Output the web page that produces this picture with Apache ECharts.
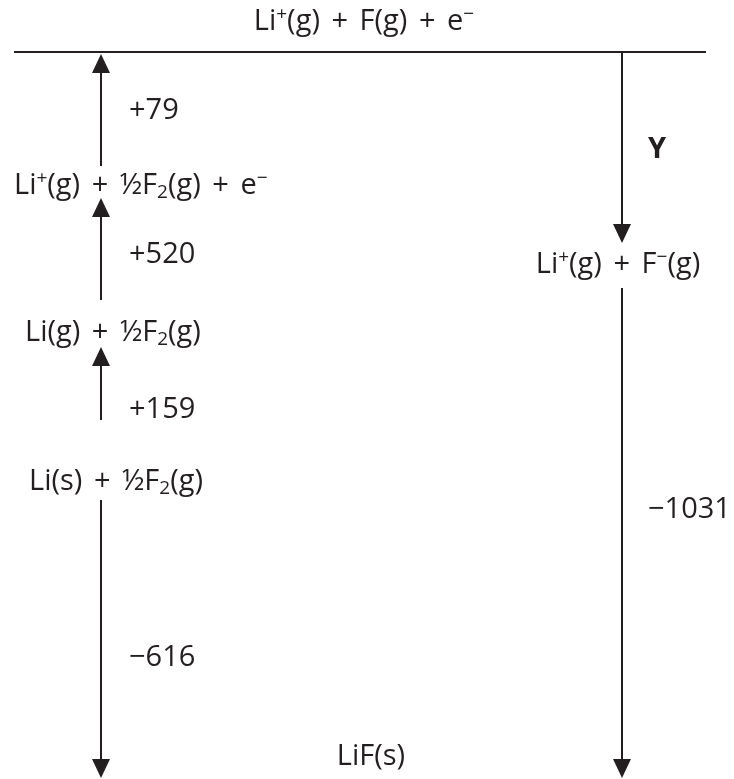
<!DOCTYPE html>
<html>
<head>
<meta charset="utf-8">
<script src="https://cdn.jsdelivr.net/npm/echarts@6/dist/echarts.min.js"></script>
<style>
html,body{margin:0;padding:0;background:#fff;}
#chart{width:734px;height:779px;}
</style>
</head>
<body>
<div id="chart"></div>
<script>
// ---- Born–Haber cycle for LiF (kJ mol^-1) ----
// species at each level (rich-text markup for super/subscripts)
const species = [
  'Li{sup|+}(g) {op|+} F(g) {op|+} e{sup|−}',
  'Li{sup|+}(g) {op|+} ½F{sub|2}(g) {op|+} e{sup|−}',
  'Li(g) {op|+} ½F{sub|2}(g)',
  'Li(s) {op|+} ½F{sub|2}(g)',
  'LiF(s)',
  'Li{sup|+}(g) {op|+} F{sup|−}(g)'
];
// enthalpy changes of each step
const stepLabels = ['+79', '+520', '+159', '−616', 'Y', '−1031'];

// schematic layout (diagram units = pixels of the drawing area)
const speciesX = [364, 14, 25, 29, 371, 618];
const speciesY = [22, 186, 333, 482, 757, 265];
const speciesAlign = ['center', 'left', 'left', 'left', 'center', 'center'];
// arrows: [x, fromY, toY] (arrow head at toY)
const arrows = [
  [101, 166, 54],
  [101, 300, 198],
  [101, 420, 347],
  [101, 500, 778],
  [622, 52, 243],
  [622, 288, 778]
];
const stepX = [129, 129, 129, 129, 648, 648];
const stepY = [111, 255, 410, 658, 150, 510];
const topLine = [[14, 52], [706, 52]];

const INK = '#231f20';
const FONT = '"Open Sans", "DejaVu Sans", sans-serif';
const FS = 29;
const rich = {
  sup: { fontSize: 19, padding: [0, 0, 15, 0], fontFamily: FONT, fill: INK, color: INK },
  sub: { fontSize: 19, padding: [13, 0, 0, 0], fontFamily: FONT, fill: INK, color: INK },
  op: { fontSize: 29, padding: [0, 4, 0, 4], fontFamily: FONT, fill: INK, color: INK }
};

const chart = echarts.init(document.getElementById('chart'), null, { renderer: 'canvas' });
chart.setOption({
  backgroundColor: '#fff',
  animation: false,
  grid: { left: 0, right: 0, top: 0, bottom: 0 },
  xAxis: { type: 'value', min: 0, max: 734, show: false },
  yAxis: { type: 'value', min: 0, max: 779, inverse: true, show: false },
  series: [
    {
      type: 'line',
      data: topLine,
      symbol: 'none',
      lineStyle: { color: INK, width: 2 },
      silent: true
    },
    {
      type: 'custom',
      data: arrows,
      encode: { x: 0, y: [1, 2] },
      renderItem: function (params, api) {
        const a = api.coord([api.value(0), api.value(1)]);
        const b = api.coord([api.value(0), api.value(2)]);
        const dir = b[1] > a[1] ? 1 : -1;
        const headL = 19, headW = 9;
        const baseY = b[1] - dir * headL;
        return {
          type: 'group',
          children: [
            { type: 'line', shape: { x1: a[0], y1: a[1], x2: b[0], y2: baseY + dir * 2 },
              style: { stroke: INK, lineWidth: 2 } },
            { type: 'polygon', shape: { points: [[b[0], b[1]], [b[0] - headW, baseY], [b[0] + headW, baseY]] },
              style: { fill: INK } }
          ]
        };
      }
    },
    {
      type: 'custom',
      data: species.map((s, i) => [speciesX[i], speciesY[i]]),
      encode: { x: 0, y: 1 },
      renderItem: function (params, api) {
        const i = params.dataIndex;
        const p = api.coord([api.value(0), api.value(1)]);
        return {
          type: 'text',
          x: p[0], y: p[1],
          style: {
            text: species[i], rich: rich,
            fontSize: FS, fontFamily: FONT, fill: INK,
            align: speciesAlign[i], verticalAlign: 'middle'
          }
        };
      }
    },
    {
      type: 'custom',
      data: stepLabels.map((s, i) => [stepX[i], stepY[i]]),
      encode: { x: 0, y: 1 },
      renderItem: function (params, api) {
        const i = params.dataIndex;
        const p = api.coord([api.value(0), api.value(1)]);
        const isY = stepLabels[i] === 'Y';
        return {
          type: 'text',
          x: p[0], y: p[1],
          style: {
            text: stepLabels[i],
            fontSize: FS, fontFamily: FONT, fill: INK,
            fontWeight: isY ? 'bold' : 'normal',
            align: 'left', verticalAlign: 'middle'
          }
        };
      }
    }
  ]
});
</script>
</body>
</html>
